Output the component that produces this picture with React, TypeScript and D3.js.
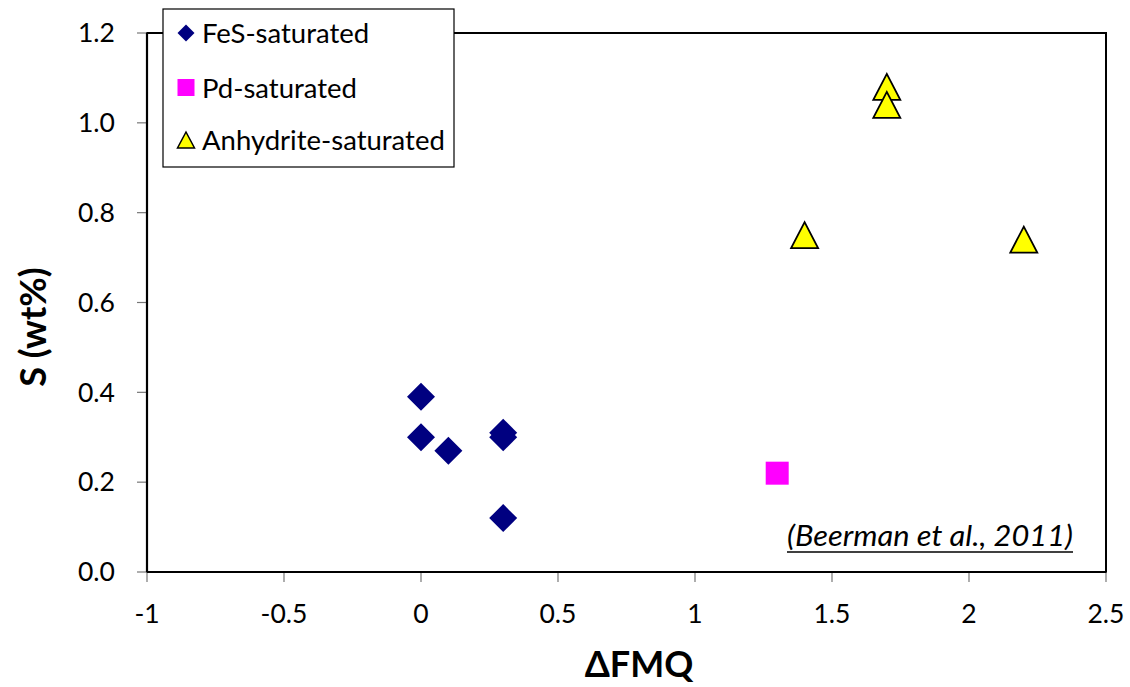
import React from "react";
import * as d3 from "d3";

// S content vs ΔFMQ for three saturation series
const fesDfmq = [0, 0, 0.1, 0.3, 0.3, 0.3];
const fesS = [0.39, 0.3, 0.27, 0.31, 0.3, 0.12];
const pdDfmq = [1.3];
const pdS = [0.22];
const anhDfmq = [1.7, 1.7, 1.4, 2.2];
const anhS = [1.08, 1.04, 0.75, 0.74];

const xTicks = [-1, -0.5, 0, 0.5, 1, 1.5, 2, 2.5];
const yTicks = [0, 0.2, 0.4, 0.6, 0.8, 1.0, 1.2];
const legendLabels = ["FeS-saturated", "Pd-saturated", "Anhydrite-saturated"];

const W = 1130;
const H = 687;
const FONT = "Lato, 'Open Sans', sans-serif";

const x = d3.scaleLinear().domain([-1, 2.5]).range([147, 1106]);
const y = d3.scaleLinear().domain([0, 1.2]).range([572, 33]);

// plain hyphen-minus for negative tick labels
const fmtX = (t: number) => String(t);
const fmtY = d3.format(".1f");

const diamond = (cx: number, cy: number, r: number) =>
  `M${cx},${cy - r}L${cx + r},${cy}L${cx},${cy + r}L${cx - r},${cy}Z`;
const triangle = (cx: number, cy: number, w: number, h: number) =>
  `M${cx},${cy - h / 2}L${cx + w / 2},${cy + h / 2}L${cx - w / 2},${cy + h / 2}Z`;

export default function App() {
  const [x0, x1] = x.range();
  const [y0, y1] = y.range();
  return (
    <svg
      width={W}
      height={H}
      style={{ position: "absolute", left: 0, top: 0, background: "#fff" }}
      fontFamily={FONT}
    >
      {/* plot frame */}
      <rect x={x0} y={y1} width={x1 - x0} height={y0 - y1} fill="none" stroke="#000" strokeWidth={2} />

      {/* y axis ticks */}
      {yTicks.map((t) => (
        <g key={"y" + t}>
          <line x1={x0 - 10} x2={x0} y1={y(t)} y2={y(t)} stroke="#777" strokeWidth={1.2} />
          <text x={115} y={y(t)} dy="0.35em" textAnchor="end" fontSize={26.5} fill="#000">
            {fmtY(t)}
          </text>
        </g>
      ))}

      {/* x axis ticks */}
      {xTicks.map((t) => (
        <g key={"x" + t}>
          <line x1={x(t)} x2={x(t)} y1={y0} y2={y0 + 10} stroke="#777" strokeWidth={1.2} />
          <text x={x(t)} y={623} textAnchor="middle" fontSize={26.5} fill="#000">
            {fmtX(t)}
          </text>
        </g>
      ))}

      {/* axes lines on top of the ticks */}
      <line x1={x0} x2={x0} y1={y1} y2={y0} stroke="#000" strokeWidth={2.2} />
      <line x1={x0} x2={x1} y1={y0} y2={y0} stroke="#000" strokeWidth={2.2} />

      {/* axis titles */}
      <text
        transform={`translate(46,327) rotate(-90)`}
        textAnchor="middle"
        fontSize={36}
        fontWeight="bold"
        fill="#000"
      >
        S (wt%)
      </text>
      <text x={639} y={677} textAnchor="middle" fontSize={36} fontWeight="bold" fill="#000">
        ΔFMQ
      </text>

      {/* FeS-saturated */}
      {fesDfmq.map((v, i) => (
        <path key={"f" + i} d={diamond(x(v), y(fesS[i]), 14)} fill="#000080" />
      ))}

      {/* Pd-saturated */}
      {pdDfmq.map((v, i) => (
        <rect key={"p" + i} x={x(v) - 11.5} y={y(pdS[i]) - 11.5} width={23} height={23} fill="#FF00FF" />
      ))}

      {/* Anhydrite-saturated */}
      {anhDfmq.map((v, i) => (
        <path
          key={"a" + i}
          d={triangle(x(v), y(anhS[i]), 27, 26)}
          fill="#FFFF00"
          stroke="#000"
          strokeWidth={1.8}
          strokeLinejoin="miter"
        />
      ))}

      {/* citation */}
      <text
        x={787}
        y={546}
        fontSize={28}
        fontStyle="italic"
        fill="#000"
        textLength={286}
        lengthAdjust="spacingAndGlyphs"
      >
        (Beerman et al., 2011)
      </text>
      <line x1={787} x2={1073} y1={552} y2={552} stroke="#000" strokeWidth={1.5} />

      {/* legend */}
      <g>
        <rect x={163} y={9} width={291} height={158} fill="#fff" stroke="#000" strokeWidth={1.2} />
        <path d={diamond(186, 33, 8.5)} fill="#000080" />
        <rect x={177.5} y={79} width={17} height={17} fill="#FF00FF" />
        <path d={triangle(186, 140, 17, 16)} fill="#FFFF00" stroke="#000" strokeWidth={1.5} />
        {legendLabels.map((l, i) => (
          <text key={l} x={202} y={[33, 88, 140][i]} dy="0.35em" fontSize={27.5} fill="#000">
            {l}
          </text>
        ))}
      </g>
    </svg>
  );
}
